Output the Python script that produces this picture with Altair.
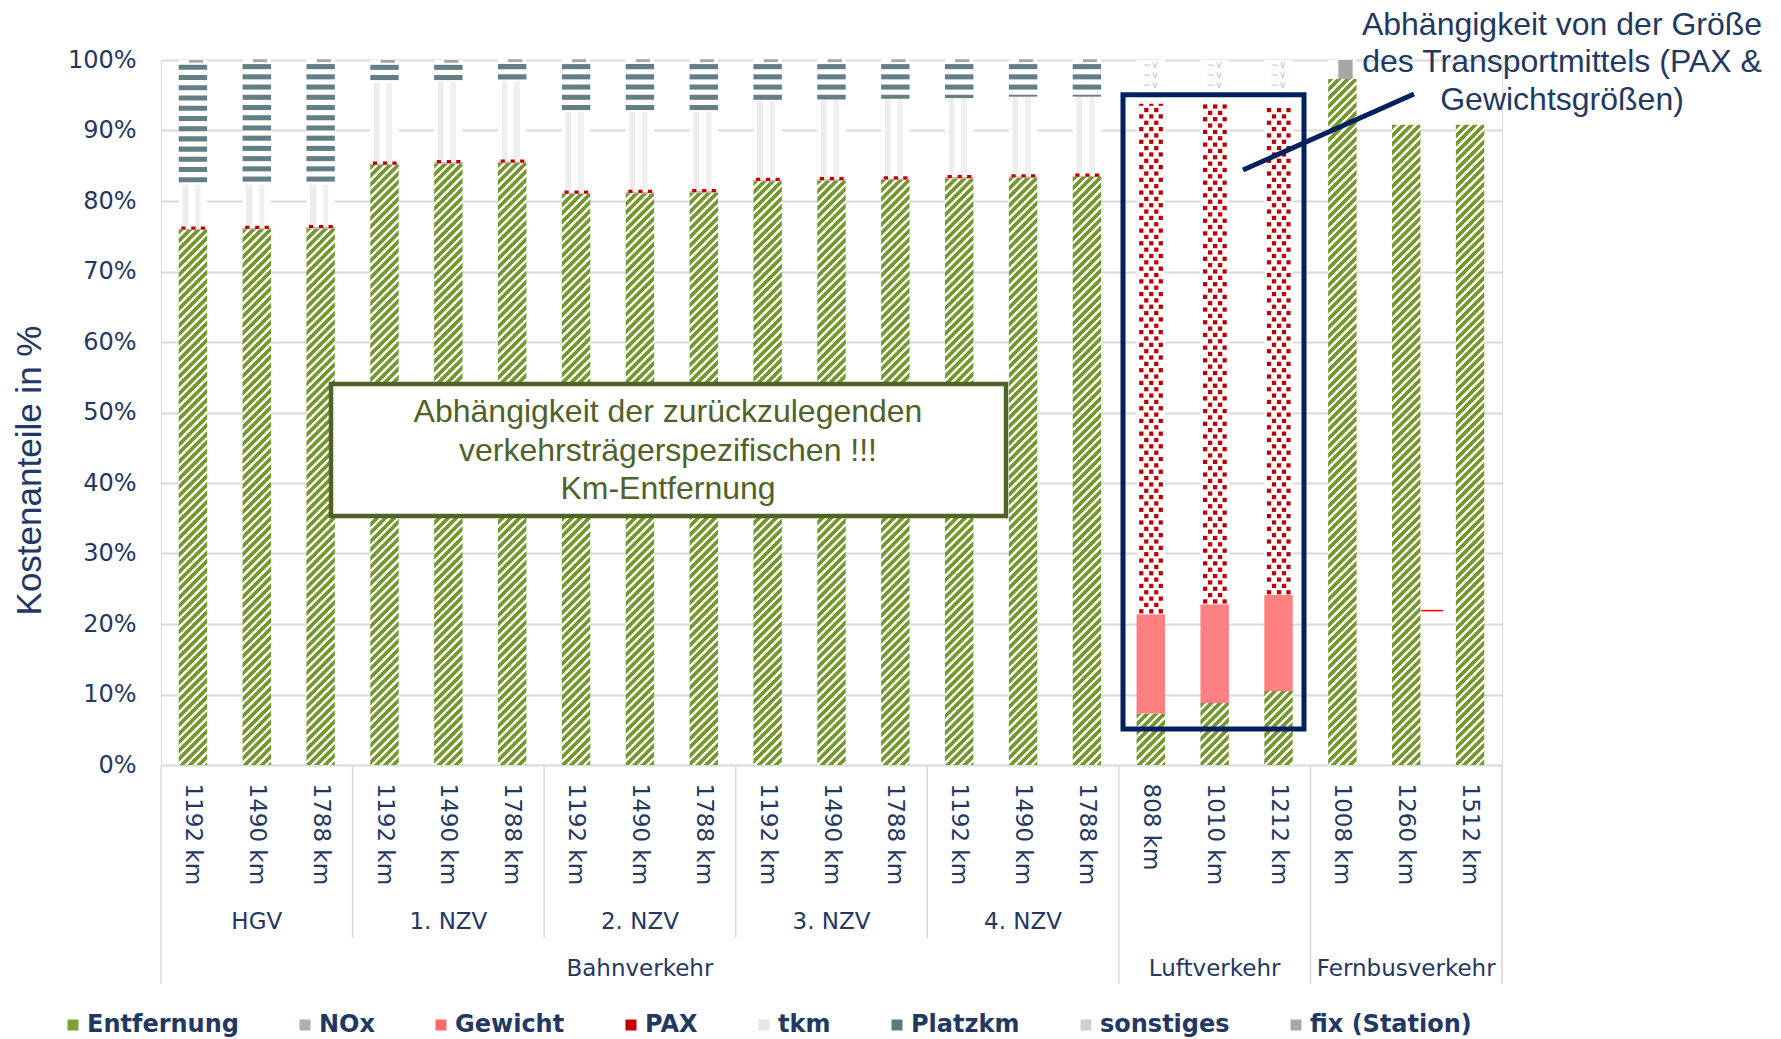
import altair as alt
import pandas as pd

# ---------------- data ----------------
supergroups = ["Bahnverkehr"] * 15 + ["Luftverkehr"] * 3 + ["Fernbusverkehr"] * 3
groups = ["HGV"] * 3 + ["1. NZV"] * 3 + ["2. NZV"] * 3 + ["3. NZV"] * 3 + ["4. NZV"] * 3 + [""] * 6
distances = ["1192 km", "1490 km", "1788 km"] * 5 + ["808 km", "1010 km", "1212 km",
                                                       "1008 km", "1260 km", "1512 km"]

series_names = ["Entfernung", "NOx", "Gewicht", "PAX", "tkm", "Platzkm", "sonstiges", "fix (Station)"]

entfernung = [75.9, 76.0, 76.1, 85.1, 85.3, 85.4, 81.0, 81.1, 81.2, 82.8, 82.9, 83.0,
              83.2, 83.3, 83.4, 7.3, 8.8, 10.5, 97.3, 90.8, 90.8]
nox = [0.1] * 15 + [0, 0, 0] + [0, 0, 0]
gewicht = [0.1] * 15 + [14.1, 14.0, 13.6] + [0, 0, 0]
pax = [0.3] * 15 + [72.4, 71.0, 69.9] + [0, 0, 0]
tkm = [5.9, 5.8, 5.7, 11.2, 11.1, 11.1, 11.2, 11.1, 11.0, 10.9, 11.0, 11.0,
       10.9, 11.0, 10.9, 0, 0, 0, 0, 0, 0]
platzkm = [17.1, 17.2, 17.2, 2.6, 2.5, 2.5, 6.8, 6.8, 6.8, 5.3, 5.1, 5.0,
           4.9, 4.7, 4.7, 0, 0, 0, 0, 0, 0]
sonstiges = [0.2] * 15 + [6.2, 6.2, 6.0] + [0, 0, 0]
fix_station = [0.4] * 15 + [0, 0, 0] + [2.7, 0, 0]

marker_index = 19          # small red line next to "1260 km" (Fernbus)
marker_value = 21.9

values = dict(zip(series_names, [entfernung, nox, gewicht, pax, tkm, platzkm, sonstiges, fix_station]))
keys = [f"{supergroups[i]}|{groups[i]}|{distances[i]}" for i in range(len(distances))]

rows = []
for i, k in enumerate(keys):
    for o, s in enumerate(series_names):
        v = values[s][i]
        if v > 0:
            rows.append({"key": k, "series": s, "order": o, "value": v})
df = pd.DataFrame(rows)

# group label table
lab_rows = []
seen = []
for g in groups:
    if g and g not in seen:
        seen.append(g)
for g in seen:
    idx = [i for i, x in enumerate(groups) if x == g]
    lab_rows.append({"key": keys[idx[len(idx) // 2]], "label": g, "level": 1})
seen = []
for g in supergroups:
    if g not in seen:
        seen.append(g)
for g in seen:
    idx = [i for i, x in enumerate(supergroups) if x == g]
    lab_rows.append({"key": keys[idx[len(idx) // 2]], "label": g, "level": 2})
lab_df = pd.DataFrame(lab_rows)

# separators between groups
sep_rows = []
for i in range(len(keys)):
    if i == 0 or groups[i] != groups[i - 1] or supergroups[i] != supergroups[i - 1]:
        major = i == 0 or supergroups[i] != supergroups[i - 1]
        sep_rows.append({"key": keys[i], "major": major})
sep_df = pd.DataFrame(sep_rows)
end_df = pd.DataFrame([{"key": keys[-1]}])
marker_df = pd.DataFrame([{"key": keys[marker_index], "value": marker_value}])
one_df = pd.DataFrame([{"a": 0}])

# ---------------- layout / style ----------------
W_PLOT, H_PLOT = 1341, 705
N = len(keys)
STEP = W_PLOT / N
PAD_IN = 0.555
BAND = STEP * (1 - PAD_IN)
PXPCT = H_PLOT / 100.0
NAVY = "#1f3864"
DARKNAVY = "#002060"
OLIVE = "#4f6228"
GREEN = "#74992b"

x_scale = alt.Scale(domain=keys, paddingInner=PAD_IN, paddingOuter=PAD_IN / 2)
x_axis = alt.Axis(labelExpr="split(datum.label, '|')[2]", labelAngle=90, labelAlign="left",
                  labelBaseline="middle", labelPadding=18, labelFont="DejaVu Sans",
                  labelFontSize=23, labelColor=NAVY, labelOverlap=False, labelLimit=300,
                  ticks=False, domain=False, grid=False, title=None)
y_scale = alt.Scale(domain=[0, 100], nice=False, zero=True)
y_axis = alt.Axis(values=list(range(0, 101, 10)), labelExpr="datum.value + '%'",
                  grid=True, gridColor="#d9d9d9", gridWidth=2, domain=False, ticks=False,
                  labelFont="DejaVu Sans", labelFontSize=24, labelColor=NAVY, labelPadding=25,
                  title="Kostenanteile in %", titleFont="Liberation Sans", titleFontSize=35,
                  titleFontWeight="normal", titleColor=NAVY, titleX=-132, titleY=410,
                  titleAngle=270, titleAlign="center", titleBaseline="middle")


def X():
    return alt.X("key:N", scale=x_scale, axis=x_axis)


def Y(field):
    return alt.Y(f"{field}:Q", scale=y_scale, axis=y_axis)


base = alt.Chart(df).transform_stack(
    stack="value", groupby=["key"], as_=["lo", "hi"],
    sort=[alt.SortField("order", "ascending")], offset="zero")


def seg(name):
    return base.transform_filter(f"datum.series === '{name}'")


layers = []

# Entfernung: diagonal hatch built as a per-segment gradient (45 deg stripes)
M, P = 100, 8.5
L = M * P
stops = []
for i in range(M):
    for f, c in [(0.04, GREEN), (0.56, GREEN), (0.64, "#ffffff"), (0.96, "#ffffff")]:
        stops.append(f"{{offset:{(i + f) / M:.5f},color:'{c}'}}")
stops_js = "[" + ",".join(stops) + "]"
hx = f"((datum.hi - datum.lo) * {PXPCT})"
den = f"({BAND} * {BAND} + {hx} * {hx})"
grad_expr = (f"{{gradient:'linear', x1:0, y1:0, x2:{L} * {BAND} / {den}, "
             f"y2:{L} * {hx} / {den}, stops:{stops_js}}}")
layers.append(seg("Entfernung").transform_calculate(grad=grad_expr).mark_bar().encode(
    x=X(), y=Y("lo"), y2="hi", fill=alt.Fill("grad:N", scale=None, legend=None)))

# NOx
layers.append(seg("NOx").mark_bar(color="#9fb1b5").encode(x=X(), y=Y("lo"), y2="hi"))
# Gewicht (fine red checker -> pink)
layers.append(seg("Gewicht").mark_bar(color="#ff8080").encode(x=X(), y=Y("lo"), y2="hi"))
# PAX: white with red squares
layers.append(seg("PAX").mark_bar(color="#ffffff").encode(x=X(), y=Y("lo"), y2="hi"))
rowsA = seg("PAX").transform_calculate(
    r="sequence(datum.lo + min(0.4, (datum.hi - datum.lo) / 2), datum.hi, 1.8)").transform_flatten(["r"])
rowsB = seg("PAX").transform_calculate(
    r="sequence(datum.lo + 1.3, datum.hi - 0.3, 1.8)").transform_flatten(["r"])
for off in [-9.5, 0.5, 10]:
    layers.append(rowsA.mark_square(size=18, color="#c00000", opacity=1, xOffset=off).encode(
        x=X(), y=Y("r")))
for off in [-4.5, 5.5]:
    layers.append(rowsB.mark_square(size=18, color="#c00000", opacity=1, xOffset=off).encode(
        x=X(), y=Y("r")))

# tkm: faint vertical stripes
tkm_grad = alt.LinearGradient(gradient="linear", x1=0, y1=0, x2=1, y2=0, stops=[
    alt.GradientStop(offset=0.0, color="#ffffff"), alt.GradientStop(offset=0.12, color="#ffffff"),
    alt.GradientStop(offset=0.14, color="#ededed"), alt.GradientStop(offset=0.32, color="#ededed"),
    alt.GradientStop(offset=0.34, color="#ffffff"), alt.GradientStop(offset=0.56, color="#ffffff"),
    alt.GradientStop(offset=0.58, color="#f0f0f0"), alt.GradientStop(offset=0.76, color="#f0f0f0"),
    alt.GradientStop(offset=0.78, color="#ffffff"), alt.GradientStop(offset=1.0, color="#ffffff")])
layers.append(seg("tkm").mark_bar(fill=tkm_grad).encode(x=X(), y=Y("lo"), y2="hi"))

# Platzkm: dark horizontal stripes
layers.append(seg("Platzkm").mark_bar(color="#ffffff").encode(x=X(), y=Y("lo"), y2="hi"))
stripes = seg("Platzkm").transform_calculate(
    s="sequence(datum.hi - 0.08, datum.lo, -1.45)").transform_flatten(["s"]).transform_calculate(
    s2="max(datum.s - 0.72, datum.lo)")
layers.append(stripes.mark_bar(color="#647e85").encode(x=X(), y=Y("s"), y2="s2"))

# sonstiges: light wavy marks
layers.append(seg("sonstiges").mark_bar(color="#ffffff").encode(x=X(), y=Y("lo"), y2="hi"))
waves = seg("sonstiges").transform_calculate(
    w="sequence(datum.hi - 0.7, datum.lo + 0.2, -1.4)").transform_flatten(["w"])
layers.append(waves.mark_text(text="∼∨", font="DejaVu Sans", fontSize=10, color="#c4c4c4",
                              baseline="middle").encode(x=X(), y=Y("w")))

# fix (Station)
fix_grad = alt.LinearGradient(gradient="linear", x1=0, y1=0, x2=1, y2=0, stops=[
    alt.GradientStop(offset=0.0, color="#ffffff"), alt.GradientStop(offset=0.35, color="#ffffff"),
    alt.GradientStop(offset=0.37, color="#a6a6a6"), alt.GradientStop(offset=0.85, color="#a6a6a6"),
    alt.GradientStop(offset=0.87, color="#ffffff"), alt.GradientStop(offset=1.0, color="#ffffff")])
layers.append(seg("fix (Station)").mark_bar(fill=fix_grad).encode(x=X(), y=Y("lo"), y2="hi"))

# small red line
layers.append(alt.Chart(marker_df).mark_rule(color="#ff0000", strokeWidth=1.5, xOffset=15, x2Offset=37)
              .encode(x=X(), x2="key:N", y=Y("value")))

# separators of the category axis
layers.append(alt.Chart(sep_df).transform_filter("!datum.major").mark_rule(
    color="#d9d9d9", strokeWidth=1.5, xOffset=-STEP / 2).encode(
    x=X(), y=alt.value(H_PLOT), y2=alt.value(878)))
layers.append(alt.Chart(sep_df).transform_filter("datum.major").mark_rule(
    color="#d9d9d9", strokeWidth=1.5, xOffset=-STEP / 2).encode(
    x=X(), y=alt.value(H_PLOT), y2=alt.value(924)))
layers.append(alt.Chart(end_df).mark_rule(color="#d9d9d9", strokeWidth=1.5, xOffset=STEP / 2).encode(
    x=X(), y=alt.value(H_PLOT), y2=alt.value(924)))

# group labels
layers.append(alt.Chart(lab_df).transform_filter("datum.level == 1").mark_text(
    font="DejaVu Sans", fontSize=23, color=NAVY, baseline="middle", align="center").encode(
    x=X(), y=alt.value(862), text="label:N"))
layers.append(alt.Chart(lab_df).transform_filter("datum.level == 2").mark_text(
    font="DejaVu Sans", fontSize=23, color=NAVY, baseline="middle", align="center").encode(
    x=X(), y=alt.value(909), text="label:N"))

# annotation: green box
layers.append(alt.Chart(one_df).mark_rect(fill="#ffffff", stroke=OLIVE, strokeWidth=4.5).encode(
    x=alt.value(170), x2=alt.value(845), y=alt.value(324), y2=alt.value(456)))
layers.append(alt.Chart(one_df).mark_text(
    text=["Abhängigkeit der zurückzulegenden", "verkehrsträgerspezifischen !!!", "Km-Entfernung"],
    font="Liberation Sans", fontSize=32, color=OLIVE, align="center", baseline="middle",
    lineHeight=38.6).encode(x=alt.value(507), y=alt.value(352.3)))

# annotation: navy box, pointer line, text
layers.append(alt.Chart(one_df).mark_rect(fill="transparent", stroke=DARKNAVY, strokeWidth=5).encode(
    x=alt.value(962), x2=alt.value(1143), y=alt.value(34.8), y2=alt.value(669)))
layers.append(alt.Chart(one_df).mark_rule(color=DARKNAVY, strokeWidth=5).encode(
    x=alt.value(1082), y=alt.value(110), x2=alt.value(1253), y2=alt.value(34)))
layers.append(alt.Chart(one_df).mark_text(
    text=["Abhängigkeit von der Größe", "des Transportmittels (PAX &", "Gewichtsgrößen)"],
    font="Liberation Sans", fontSize=32, color=NAVY, align="center", baseline="middle",
    lineHeight=37.5).encode(x=alt.value(1401), y=alt.value(-35.5)))

# legend (drawn from the series list only)
legend_colors = ["#7fa035", "#a3b3b7", "#ff6b6b", "#c00000", "#e6e6e6", "#5f7b82", "#d0d0d0", "#a6a6a6"]
layers.append(alt.Chart(df).transform_filter("false").mark_square(opacity=1).encode(
    color=alt.Color("series:N", scale=alt.Scale(domain=series_names, range=legend_colors),
                    legend=alt.Legend(orient="none", legendX=-100, legendY=953, direction="horizontal",
                                      columns=8, title=None, symbolType="square", symbolSize=121,
                                      symbolStrokeWidth=0, labelFont="DejaVu Sans",
                                      labelFontWeight="bold", labelFontSize=24, labelColor=NAVY,
                                      columnPadding=54, labelOffset=2, labelLimit=400))))

chart = alt.layer(*layers).properties(
    width=W_PLOT, height=H_PLOT,
    padding={"left": 153, "top": 52, "right": 271, "bottom": 274},
    autosize=alt.AutoSizeParams(type="none"),
).configure_view(stroke=None).configure(background="white")

chart.save("out.html", embed_options={"renderer": "svg", "actions": False})
